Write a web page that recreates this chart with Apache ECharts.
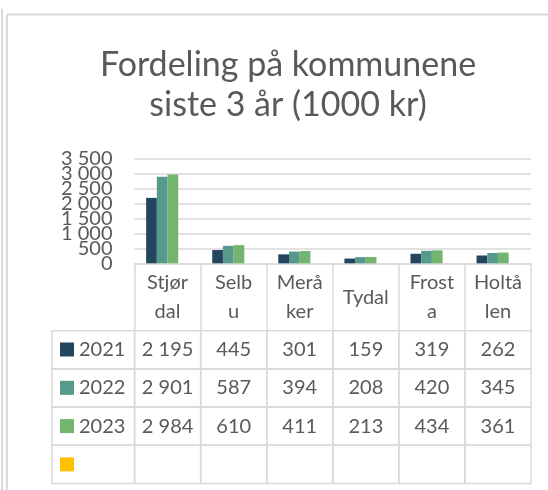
<!DOCTYPE html>
<html lang="nb">
<head>
    <meta charset="utf-8">
    <title>Fordeling på kommunene</title>
    <script type="text/javascript" src="https://cdn.jsdelivr.net/npm/echarts@6/dist/echarts.min.js"></script>
    <style>
        html, body { margin: 0; padding: 0; background: #fff; }
        #chart { width: 548px; height: 490px; }
    </style>
</head>
<body>
<div id="chart"></div>
<script type="text/javascript">
    // data
    var kommuner = ['Stjørdal', 'Selbu', 'Meråker', 'Tydal', 'Frosta', 'Holtålen'];
    var kommuneLabels = ['Stjør\ndal', 'Selb\nu', 'Merå\nker', 'Tydal', 'Frost\na', 'Holtå\nlen'];
    var years = ['2021', '2022', '2023', ' '];
    var v2021 = [2195, 445, 301, 159, 319, 262];
    var v2022 = [2901, 587, 394, 208, 420, 345];
    var v2023 = [2984, 610, 411, 213, 434, 361];
    var vTom = [null, null, null, null, null, null];   // tom serie i tabellen
    var yMin = 0, yMax = 3500, yStep = 500;

    var farger = ['#23455E', '#56998D', '#73B46E', '#FFC000'];
    var rader = [v2021, v2022, v2023, vTom];
    var gra = '#595959', linje = '#D9D9D9', font = 'Lato';

    function fmt(v) {
        if (v == null) return '';
        return String(v).replace(/\B(?=(\d{3})+(?!\d))/g, ' ');
    }

    // tabellceller: [kolonne, rad], kolonne -1 = forklaring
    var celler = [], celleTekst = [];
    for (var r = 0; r < rader.length; r++) {
        celler.push([-1, r]);
        celleTekst.push('');
        for (var c = 0; c < kommuner.length; c++) {
            celler.push([c, r]);
            celleTekst.push(fmt(rader[r][c]));
        }
    }

    function tegnCelle(params, api) {
        var c = api.value(0), r = api.value(1);
        var x0 = c < 0 ? -1.25 : c;
        var x1 = c < 0 ? 0 : c + 1;
        var p0 = api.coord([x0, r]);
        var p1 = api.coord([x1, r + 1]);
        return {
            type: 'group',
            children: [{
                type: 'rect',
                shape: {x: p0[0], y: p0[1], width: p1[0] - p0[0], height: p1[1] - p0[1]},
                style: {fill: 'none', stroke: linje, lineWidth: 1.5}
            }, {
                type: 'text',
                style: {
                    text: celleTekst[params.dataIndex],
                    x: (p0[0] + p1[0]) / 2,
                    y: (p0[1] + p1[1]) / 2,
                    align: 'center',
                    verticalAlign: 'middle',
                    fill: gra,
                    font: '20px ' + font
                }
            }]
        };
    }

    var chart = echarts.init(document.getElementById('chart'));
    var barSerier = rader.map(function (d, i) {
        return {
            name: years[i],
            type: 'bar',
            data: d,
            barWidth: 10.7,
            barGap: '0%',
            itemStyle: {color: farger[i]}
        };
    });

    var yLabel = {margin: 22, fontFamily: font, fontSize: 20, color: gra, formatter: fmt};

    var option = {
        animation: false,
        title: {
            text: 'Fordeling på kommunene\nsiste 3 år (1000 kr)',
            left: 283,
            textAlign: 'center',
            top: 40,
            textStyle: {fontFamily: font, fontSize: 34, fontWeight: 'normal', color: gra, lineHeight: 40}
        },
        legend: {
            orient: 'vertical',
            left: 60,
            top: 339.5,
            padding: 0,
            itemWidth: 14,
            itemHeight: 14,
            itemGap: 18.3,
            icon: 'rect',
            selectedMode: false,
            data: years,
            textStyle: {fontFamily: font, fontSize: 20, lineHeight: 20, color: gra}
        },
        grid: [
            {left: 134.5, right: 17, top: 159, height: 104.3},
            {left: 52, right: 17, top: 330.7, height: 152.8}
        ],
        xAxis: [{
            type: 'category',
            data: kommuner,
            gridIndex: 0,
            axisLine: {lineStyle: {color: linje, width: 1.5}},
            axisTick: {show: true, length: 67.7, lineStyle: {color: linje, width: 1.5}},
            axisLabel: {
                margin: 34,
                verticalAlign: 'middle',
                lineHeight: 29,
                fontFamily: font,
                fontSize: 20,
                color: gra,
                formatter: function (v, i) { return kommuneLabels[i]; }
            }
        }, {
            type: 'value', gridIndex: 1, min: -1.25, max: 6, show: false
        }],
        yAxis: [{
            type: 'value',
            gridIndex: 0,
            position: 'left',
            min: yMin,
            max: yMax,
            interval: yStep,
            axisLine: {show: false},
            axisTick: {show: false},
            splitLine: {lineStyle: {color: linje, width: 1.5}},
            axisLabel: Object.assign({showMinLabel: false, showMaxLabel: false}, yLabel)
        }, {
            type: 'value', gridIndex: 1, min: 0, max: 4, inverse: true, show: false
        }, {
            // 0 og 3 500 skjules av overlappsjekken, tegnes fra egen akse
            type: 'value',
            gridIndex: 0,
            position: 'left',
            offset: 0,
            min: yMin,
            max: yMax,
            interval: yMax - yMin,
            axisLine: {show: false},
            axisTick: {show: false},
            splitLine: {show: false},
            axisLabel: yLabel
        }],
        graphic: [
            {type: 'line', shape: {x1: 2, y1: 9, x2: 2, y2: 490}, style: {stroke: linje, lineWidth: 2}},
            {type: 'line', shape: {x1: 7, y1: 14.5, x2: 548, y2: 14.5}, style: {stroke: linje, lineWidth: 2}},
            {type: 'line', shape: {x1: 7, y1: 14.5, x2: 7, y2: 490}, style: {stroke: linje, lineWidth: 2}}
        ],
        series: barSerier.concat([{
            type: 'custom',
            xAxisIndex: 1,
            yAxisIndex: 1,
            renderItem: tegnCelle,
            data: celler,
            silent: true
        }])
    };
    chart.setOption(option);
</script>
</body>
</html>
